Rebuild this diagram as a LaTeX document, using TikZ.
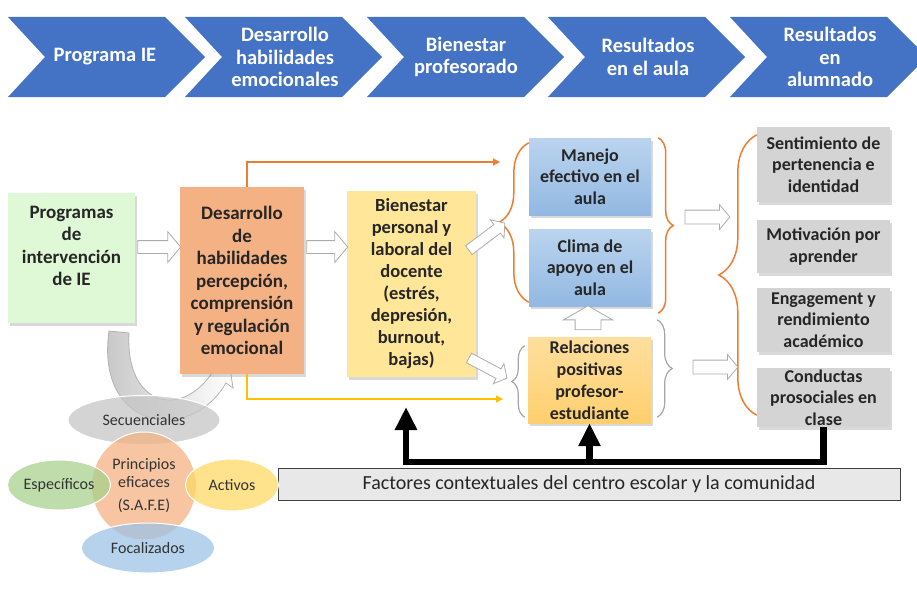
\documentclass[tikz,border=0pt]{standalone}
\usepackage{fontspec}
\setmainfont{Carlito}
\usetikzlibrary{positioning, calc, shapes.geometric, shapes.arrows, arrows.meta, shadows, decorations.pathreplacing}
\definecolor{ieblue}{HTML}{4472C4}
\definecolor{progreen}{HTML}{DFF8D6}
\definecolor{devorange}{HTML}{F4B183}
\definecolor{bienyellow}{HTML}{FFE699}
\definecolor{bluetop}{HTML}{BBD4EF}
\definecolor{bluebot}{HTML}{92B8E2}
\definecolor{reltop}{HTML}{FFDF9E}
\definecolor{relbot}{HTML}{FFCF6E}
\definecolor{resgray}{HTML}{D4D4D4}
\definecolor{orline}{HTML}{ED7D31}
\definecolor{yeline}{HTML}{FFC000}
\definecolor{pillgreen}{HTML}{A9D18E}
\definecolor{pillyellow}{HTML}{FFD966}
\definecolor{pillblue}{HTML}{9DC3E6}
\tikzstyle{Hollow} = [
%white block arrow with grey rim:
single arrow, draw=gray!65, fill=white, line width=0.8pt,
inner xsep=0pt, single arrow tip angle=100
]

\begin{document}
\begin{tikzpicture}[x=1pt, y=-1pt,
		chevtxt/.style = {text=white, align=center, font=\fontsize{20.5}{22.5}\selectfont\bfseries},
		box/.style = {rectangle, inner sep=0pt, align=center, text=black!85, font=\fontsize{19}{22.5}\selectfont\bfseries, drop shadow={shadow xshift=1.5pt, shadow yshift=-2.5pt, opacity=0.3}},
		bluebox/.style = {box, top color=bluetop, bottom color=bluebot, minimum width=122pt, minimum height=77pt, font=\fontsize{18}{21.5}\selectfont\bfseries},
		resbox/.style = {box, fill=resgray, minimum width=133pt, font=\fontsize{18}{21.5}\selectfont\bfseries},
		curly/.style = {line width=1.5pt, decorate, decoration={brace, amplitude=#1}},
		pill/.style = {ellipse, draw=white, line width=1pt, inner sep=0pt, align=center, fill opacity=0.75, text opacity=1, text=black!80, font=\fontsize{16}{18}\selectfont},
		thin/.style = {line width=1.3pt, -{Triangle[length=7pt, width=7pt]}},
		blk/.style = {line width=6.5pt, -{Triangle[length=23pt, width=21pt]}},
	]
	\useasboundingbox (0,0) rectangle (917,602);

	% top chevrons
	\foreach \x in {8,185,367,548,730}
		\fill[ieblue] (\x,17) -- ++(157,0) -- ++(40,40) -- ++(-40,40) -- ++(-157,0) -- ++(37,-40) -- cycle;
	\node[chevtxt] (chev1) at (105,57) {Programa IE};
	\node[chevtxt] (chev2) at (285,57) {Desarrollo\\habilidades\\emocionales};
	\node[chevtxt] (chev3) at (466,57) {Bienestar\\profesorado};
	\node[chevtxt] (chev4) at (648,57) {Resultados\\en el aula};
	\node[chevtxt] (chev5) at (830,57) {Resultados\\en\\alumnado};

	% curved arrow from the principles
	\draw[gray!60, line width=0.8pt, left color=gray!55, right color=white, fill opacity=0.85]
		(129,333) .. controls (125,405) and (180,420) .. (212,373) -- (205,368) -- (229,362)
		-- (233,388) -- (226,383) .. controls (190,445) and (95,430) .. (109,331) -- cycle;

	% main chain
	\node[box, fill=progreen, minimum width=127pt, minimum height=130pt] (prog) at (71.5,258) {};
	\node[align=center, text=black!85, font=\fontsize{19}{22.5}\selectfont\bfseries] (progtxt) at ([yshift=12pt]prog.center) {Programas\\de\\intervención\\de IE};
	\node[box, fill=devorange, minimum width=124pt, minimum height=187pt] (dev) at (242,280.5) {Desarrollo\\de\\habilidades\\percepción,\\comprensión\\y regulación\\emocional};
	\node[box, fill=bienyellow, minimum width=129pt, minimum height=186pt, font=\fontsize{18.5}{22}\selectfont\bfseries] (bien) at (411.5,284) {Bienestar\\personal y\\laboral del\\docente\\(estrés,\\depresión,\\burnout,\\bajas)};
	\node[bluebox] (manejo) at (590,176.5) {Manejo\\efectivo en el\\aula};
	\node[bluebox] (clima) at (590,267.5) {Clima de\\apoyo en el\\aula};
	\node[box, top color=reltop, bottom color=relbot, minimum width=123pt, minimum height=86pt, font=\fontsize{18}{22}\selectfont\bfseries] (rel) at (589.5,380) {Relaciones\\positivas\\profesor-\\estudiante};

	\node[resbox, minimum height=75pt] (sent) at (823.5,164.5) {Sentimiento de\\pertenencia e\\identidad};
	\node[resbox, minimum height=53pt] (moti) at (823.5,246.5) {Motivación por\\aprender};
	\node[resbox, minimum height=64pt] (enga) at (823.5,320) {Engagement y\\rendimiento\\académico};
	\node[resbox, minimum height=59pt] (cond) at (823.5,397.5) {Conductas\\prosociales en\\clase};

	\node[draw=black!75, line width=1pt, fill=gray!18, minimum width=622pt, minimum height=32pt, inner sep=0pt, font=\fontsize{20}{22}\selectfont, text=black!85] (fact) at (589,484) {Factores contextuales del centro escolar y la comunidad};

	% braces
	\draw[curly=30pt, orline] ([yshift=4pt]clima.south west) -- ([yshift=-5pt]manejo.north west);
	\draw[curly=15pt, orline] ([xshift=7pt]manejo.north east) -- ([xshift=7pt, yshift=-7pt]clima.south east);
	\draw[curly=13pt, gray!70, line width=1.2pt] ([xshift=-3pt, yshift=6pt]rel.south west) -- ([xshift=-3pt, yshift=-9pt]rel.north west);
	\draw[curly=15pt, gray!70, line width=1.2pt] ([xshift=6pt, yshift=17pt]rel.north east) -- ([xshift=6pt, yshift=6pt]rel.south east);
	\draw[curly=38pt, orline] ([yshift=12pt]cond.south west) -- ([yshift=-8pt]sent.north west);

	% block arrows
	\node[Hollow, minimum height=43pt, inner ysep=6pt, single arrow head extend=9pt] (h1) at (156.5,247) {};
	\node[Hollow, minimum height=41pt, inner ysep=6pt, single arrow head extend=9pt] (h2) at (324.5,247) {};
	\node[Hollow, minimum height=45pt, inner ysep=5pt, single arrow head extend=6pt, rotate=37] (h3) at (485,238) {};
	\node[Hollow, minimum height=43pt, inner ysep=5pt, single arrow head extend=6pt, rotate=-28] (h4) at (486,367) {};
	\node[Hollow, minimum height=24pt, inner ysep=12.5pt, single arrow head extend=11.5pt, single arrow tip angle=120, rotate=90] (h5) at (588,321.5) {};
	\node[Hollow, minimum height=45pt, inner ysep=6.5pt, single arrow head extend=5.5pt] (h6) at (704.5,217) {};
	\node[Hollow, minimum height=45pt, inner ysep=6.5pt, single arrow head extend=5.5pt] (h7) at (712.5,367) {};

	% thin lines from development box
	\coordinate (toclass) at (500,162);
	\coordinate (torel) at (503,399);
	\draw[thin, orline] ([xshift=5pt]dev.north) |- (toclass);
	\draw[thin, yeline] ([xshift=5pt]dev.south) |- (torel);

	% context arrows
	\coordinate (up1) at (406,407);
	\coordinate (bus) at (406,462);
	\draw[blk] (cond.south) |- (bus) -- (up1);
	\draw[blk] (bus -| rel.south) -- (rel.south);

	% principles
	\node[pill, fill=gray!45, minimum width=152pt, minimum height=49pt] (sec) at (144,420) {Secuenciales};
	\node[pill, fill=devorange, minimum width=105pt, minimum height=108pt] (safe) at (144,486) {Principios\\eficaces\\[5pt](S.A.F.E)};
	\node[pill, fill=pillgreen, minimum width=103pt, minimum height=50pt] (esp) at (59,485) {Específicos};
	\node[pill, fill=pillyellow, minimum width=93pt, minimum height=52pt] (act) at (232,485) {Activos};
	\node[pill, fill=pillblue, minimum width=133pt, minimum height=50pt] (foc) at (148,548) {Focalizados};

\end{tikzpicture}
\end{document}
